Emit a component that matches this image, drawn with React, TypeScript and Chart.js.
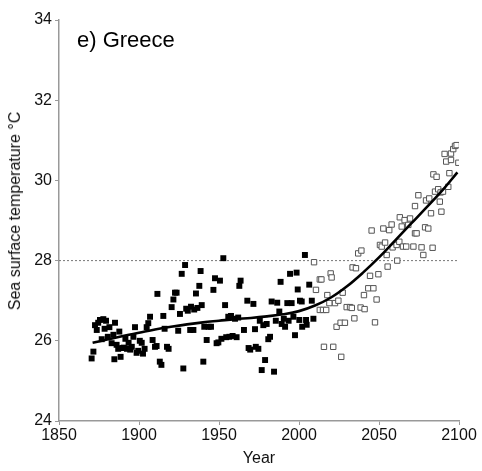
import React, { useEffect, useRef } from "react";
import { Chart, registerables } from "chart.js";

Chart.register(...registerables);

const observedYears = [
  1870.4, 1871.5, 1872.5, 1873.6, 1874.5, 1875.6, 1876.7, 1877.7, 1878.5, 1879.4,
  1880.5, 1881.5, 1882.9, 1884.0, 1884.6, 1885.0, 1886.0, 1887.0, 1887.7, 1888.5,
  1889.5, 1890.5, 1891.5, 1892.5, 1893.5, 1894.5, 1895.5, 1896.5, 1897.5, 1898.5,
  1899.5, 1900.5, 1901.7, 1902.5, 1903.5, 1904.8, 1905.8, 1906.9, 1908.5, 1910.0,
  1911.0, 1911.5, 1913.0, 1914.0, 1915.2, 1916.0, 1917.5, 1918.5, 1920.4, 1921.5,
  1922.5, 1923.5, 1924.5, 1925.6, 1926.7, 1927.7, 1928.8, 1929.5, 1930.5, 1932.0,
  1932.5, 1934.0, 1934.5, 1935.6, 1936.5, 1937.7, 1938.5, 1939.2, 1940.2, 1940.8,
  1942.3, 1943.5, 1945.0, 1946.5, 1947.5, 1948.5, 1949.6, 1950.6, 1951.5, 1952.7,
  1953.8, 1954.5, 1955.8, 1956.5, 1957.5, 1958.5, 1960.0, 1961.0, 1962.0, 1962.7,
  1963.5, 1965.6, 1967.7, 1968.5, 1969.5, 1971.5, 1972.5, 1973.0, 1974.6, 1975.5,
  1976.7, 1977.7, 1978.8, 1979.8, 1980.8, 1981.9, 1982.9, 1984.4, 1985.5, 1986.4,
  1987.7, 1988.5, 1989.2, 1990.5, 1991.3, 1992.7, 1993.5, 1994.4, 1995.4, 1996.5,
  1997.5, 1998.5, 1999.2, 2000.2, 2000.6, 2001.7, 2002.0, 2003.7, 2004.4, 2004.8,
  2006.4, 2008.0, 2009.0,
];
const observedTemps = [
  25.56, 25.73, 26.39, 26.27, 26.45, 26.52, 26.04, 26.54, 26.3, 26.5,
  26.1, 26.34, 25.94, 26.15, 25.54, 26.45, 25.9, 25.8, 26.23, 25.6,
  25.82, 25.83, 26.05, 25.8, 25.95, 25.78, 25.85, 26.1, 26.34, 25.7,
  25.75, 26.0, 25.95, 25.68, 25.8, 26.34, 26.44, 26.6, 26.02, 25.85,
  25.87, 27.17, 25.48, 25.4, 26.62, 26.3, 25.85, 25.8, 26.84, 27.03,
  27.2, 27.2, 26.25, 26.67, 27.67, 25.31, 27.89, 26.8, 26.75, 26.27,
  26.85, 26.27, 26.78, 27.18, 26.82, 27.37, 27.74, 26.89, 25.48, 26.35,
  26.02, 26.35, 26.35, 27.27, 27.56, 25.94, 25.96, 27.5, 26.05, 28.06,
  26.89, 26.09, 26.6, 26.1, 26.62, 26.12, 26.55, 26.09, 26.58, 27.37,
  27.5, 26.27, 27.0, 25.82, 25.78, 26.92, 26.29, 25.85, 25.8, 26.5,
  25.27, 26.39, 25.52, 26.42, 26.04, 26.1, 26.98, 25.23, 26.5, 26.95,
  26.73, 27.47, 26.42, 26.55, 26.35, 26.94, 26.5, 27.67, 26.94, 26.6,
  26.14, 27.7, 27.28, 26.52, 27.0, 26.98, 26.35, 28.14, 26.52, 26.4,
  27.4, 27.0, 26.55,
];

const projectedYears = [
  2009.4, 2010.6, 2013.0, 2013.0, 2014.0, 2015.0, 2015.6, 2017.0, 2017.7, 2019.0,
  2019.8, 2020.4, 2021.4, 2022.5, 2023.5, 2024.6, 2026.0, 2026.4, 2027.3, 2028.7,
  2029.8, 2031.9, 2033.0, 2033.5, 2034.6, 2035.6, 2037.0, 2038.5, 2039.0, 2040.6,
  2041.0, 2043.3, 2044.4, 2045.4, 2046.5, 2047.5, 2048.5, 2049.6, 2050.6, 2051.7,
  2052.7, 2053.8, 2054.8, 2055.4, 2056.4, 2057.9, 2058.5, 2061.0, 2061.4, 2062.7,
  2063.0, 2064.2, 2065.0, 2066.0, 2067.0, 2068.3, 2069.4, 2071.5, 2072.5, 2072.5,
  2073.5, 2074.6, 2076.6, 2077.7, 2078.8, 2079.4, 2080.8, 2081.4, 2082.5, 2083.5,
  2084.0, 2085.0, 2086.0, 2087.0, 2088.0, 2088.5, 2089.0, 2090.0, 2091.0, 2092.0,
  2093.3, 2094.0, 2095.0, 2095.0, 2096.4, 2097.5, 2098.5, 2099.6,
];
const projectedTemps = [
  27.96, 27.27, 27.53, 26.77, 27.53, 26.77, 25.85, 26.77, 27.14, 26.94,
  27.68, 27.58, 25.85, 26.94, 26.35, 27.0, 26.45, 25.6, 27.2, 26.45,
  26.84, 26.84, 26.82, 27.83, 26.56, 27.81, 28.18, 26.83, 28.25, 27.14,
  26.79, 27.31, 27.62, 28.75, 27.31, 26.46, 27.03, 27.66, 28.39, 28.35,
  28.8, 28.45, 28.14, 27.85, 28.76, 28.9, 28.33, 28.39, 28.0, 28.47,
  29.08, 28.85, 28.35, 29.01, 28.35, 28.89, 29.05, 28.35, 28.68, 29.36,
  28.68, 29.63, 28.33, 28.14, 28.83, 29.5, 28.8, 29.55, 29.18, 28.32,
  30.15, 29.72, 30.09, 29.78, 29.47, 29.7, 29.22, 29.72, 30.66, 30.47,
  29.84, 30.18, 30.67, 30.51, 30.78, 30.86, 30.88, 30.44,
];

const fitYears = [
  1871, 1880, 1890, 1900, 1910, 1920, 1930, 1940, 1950, 1960, 1970, 1980,
  1990, 2000, 2010, 2020, 2030, 2040, 2050, 2060, 2070, 2080, 2090, 2099,
];
const fitTemps = [
  25.95, 26.03, 26.12, 26.2, 26.28, 26.35, 26.41, 26.46, 26.5, 26.54, 26.57, 26.61,
  26.66, 26.74, 26.88, 27.08, 27.36, 27.7, 28.08, 28.5, 28.92, 29.34, 29.77, 30.2,
];

const thresholdYears = [1850, 2100];
const thresholdTemps = [28, 28];

const xTicks = [1850, 1900, 1950, 2000, 2050, 2100];
const yTicks = [24, 26, 28, 30, 32, 34];

const toPts = (xs: number[], ys: number[]) => xs.map((x, i) => ({ x, y: ys[i] }));

const FONT = "Arial, 'Liberation Sans', sans-serif";

export default function App() {
  const ref = useRef<HTMLCanvasElement | null>(null);

  useEffect(() => {
    if (!ref.current) return;
    const font = { family: FONT, size: 16 };
    const chart = new Chart(ref.current, {
      type: "scatter",
      data: {
        datasets: [
          {
            label: "fit",
            data: toPts(fitYears, fitTemps),
            showLine: true,
            borderColor: "#000",
            borderWidth: 2.6,
            pointRadius: 0,
            tension: 0.4,
            order: 0,
          },
          {
            label: "observed",
            data: toPts(observedYears, observedTemps),
            pointStyle: "rect",
            pointRadius: 4.2,
            backgroundColor: "#000",
            borderColor: "#000",
            borderWidth: 0,
            order: 1,
          },
          {
            label: "projected",
            data: toPts(projectedYears, projectedTemps),
            pointStyle: "rect",
            pointRadius: 3.8,
            backgroundColor: "#fff",
            borderColor: "#555",
            borderWidth: 1,
            order: 2,
          },
          {
            label: "threshold",
            data: toPts(thresholdYears, thresholdTemps),
            showLine: true,
            borderColor: "#777",
            borderWidth: 1,
            borderDash: [2, 2],
            pointRadius: 0,
            order: 3,
          },
        ],
      },
      options: {
        animation: false,
        responsive: false,
        layout: { padding: { top: 20, right: 23, left: 0, bottom: 0 } },
        plugins: { legend: { display: false }, tooltip: { enabled: false } },
        scales: {
          x: {
            type: "linear",
            min: 1850,
            max: 2100,
            afterBuildTicks: (s: any) => {
              s.ticks = xTicks.map((v) => ({ value: v }));
            },
            afterFit: (s: any) => {
              s.height = 50;
            },
            grid: { drawOnChartArea: false, drawTicks: true, tickLength: 4, color: "#999" },
            border: { display: true, color: "#999", width: 1.5 },
            ticks: { color: "#111", font, padding: 1, maxRotation: 0, callback: (v: any) => String(v) },
            title: { display: true, text: "Year", color: "#111", font, padding: { top: 0, bottom: 3 } },
          },
          y: {
            type: "linear",
            min: 24,
            max: 34,
            afterBuildTicks: (s: any) => {
              s.ticks = yTicks.map((v) => ({ value: v }));
            },
            afterFit: (s: any) => {
              s.width = 59;
            },
            grid: { drawOnChartArea: false, drawTicks: true, tickLength: 4, color: "#999" },
            border: { display: true, color: "#999", width: 1.5 },
            ticks: { color: "#111", font, padding: 3, callback: (v: any) => String(v) },
            title: { display: false },
          },
        },
      },
    } as any);
    return () => chart.destroy();
  }, []);

  return (
    <div style={{ position: "absolute", left: 0, top: 0, width: 482, height: 471, background: "#fff" }}>
      <canvas ref={ref} width={482} height={471} style={{ display: "block" }} />
      <div
        style={{
          position: "absolute",
          left: 77,
          top: 28,
          fontFamily: FONT,
          fontSize: 22,
          lineHeight: "24px",
          color: "#000",
          whiteSpace: "nowrap",
        }}
      >
        e) Greece
      </div>
      <div
        style={{
          position: "absolute",
          left: 15,
          top: 211,
          transform: "translate(-50%, -50%) rotate(-90deg)",
          fontFamily: FONT,
          fontSize: 16,
          lineHeight: "18px",
          color: "#111",
          whiteSpace: "nowrap",
        }}
      >
        Sea surface temperature °C
      </div>
    </div>
  );
}
